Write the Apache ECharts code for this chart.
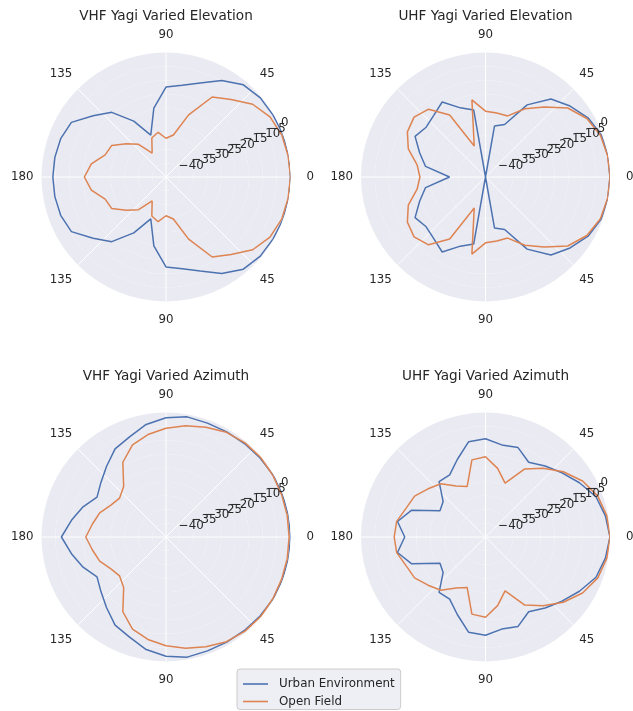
<!DOCTYPE html>
<html>
<head>
<meta charset="utf-8">
<script src="https://cdn.jsdelivr.net/npm/echarts@6/dist/echarts.min.js"></script>
<style>
  html, body { margin: 0; padding: 0; background: #fff; }
  #chart { width: 633px; height: 711px; }
</style>
</head>
<body>
<div id="chart"></div>
<script>
  // angles in degrees, one reading every 10 degrees
  var angles = [0, 10, 20, 30, 40, 50, 60, 70, 80, 90, 100, 110, 120, 130, 140, 150, 160, 170, 180,
    190, 200, 210, 220, 230, 240, 250, 260, 270, 280, 290, 300, 310, 320, 330, 340, 350, 360];

  // received level in dB
  var vhfElevUrban = [0, 0, 0, -0.3, -0.5, -1.5, -4.7, -8.8, -11.3, -12.5, -19.7, -28.9, -21.7, -14.5, -10.6, -5.5, -4.5, -4.2, -4.1,
    -4.2, -4.5, -5.5, -10.6, -14.5, -21.7, -28.9, -19.7, -12.5, -11.3, -8.8, -4.7, -1.5, -0.5, -0.3, 0, 0, 0];
  var vhfElevOpen = [0, -0.2, -0.5, -1.6, -4.1, -8.4, -11.6, -21.1, -29.6, -31.0, -28.6, -30.0, -35.0, -29.6, -26.3, -22.3, -21.6, -17.6, -15.5,
    -17.6, -21.6, -22.3, -26.3, -29.6, -35.0, -30.0, -28.6, -31.0, -29.6, -21.1, -11.6, -8.4, -4.1, -1.6, -0.5, -0.2, 0];

  var uhfElevUrban = [0, -0.1, -0.5, -2.2, -5.1, -8.2, -14.9, -24.8, -26.3, -45, -20.4, -18.4, -13.7, -15.9, -17.0, -15.6, -19.7, -23.0, -32.0,
    -23.0, -19.7, -15.6, -17.0, -15.9, -13.7, -18.4, -20.4, -45, -26.3, -24.8, -14.9, -8.2, -5.1, -2.2, -0.5, -0.1, 0];
  var uhfElevOpen = [0, -0.2, -0.8, -2.7, -6.2, -12.0, -16.5, -21.5, -21.5, -21.2, -16.7, -33.1, -19.1, -13.0, -11.3, -12.4, -15.3, -19.9, -21.3,
    -19.9, -15.3, -12.4, -11.3, -13.0, -19.1, -33.1, -16.7, -21.2, -21.5, -21.5, -16.5, -12.0, -6.2, -2.7, -0.8, -0.2, 0];

  var vhfAzUrban = [0, 0, -0.2, -0.3, -0.6, -0.9, -1.1, -1.2, -0.9, -1.9, -3.7, -6.5, -8.2, -11.6, -14.3, -16.2, -13.1, -10.3, -7.2,
    -10.3, -13.1, -16.2, -14.3, -11.6, -8.2, -6.5, -3.7, -1.9, -0.9, -1.2, -1.1, -0.9, -0.6, -0.3, -0.2, 0, 0];
  var vhfAzOpen = [-0.5, -0.5, -0.5, -0.4, -0.3, -0.6, -1.3, -2.8, -4.2, -5.7, -7.4, -9.6, -13.8, -21.2, -23.1, -22.0, -19.5, -18.0, -16.0,
    -18.0, -19.5, -22.0, -23.1, -21.2, -13.8, -9.6, -7.4, -5.7, -4.2, -2.8, -1.3, -0.6, -0.3, -0.4, -0.5, -0.5, -0.5];

  var uhfAzUrban = [0, -1.0, -2.5, -5.8, -8.9, -11.5, -13.8, -10.6, -11.2, -9.5, -10.0, -15.2, -19.1, -18.9, -25.0, -26.0, -16.6, -12.7, -15.8,
    -12.7, -16.6, -26.0, -25.0, -18.9, -19.1, -15.2, -10.0, -9.5, -11.2, -10.6, -13.8, -11.5, -8.9, -5.8, -2.5, -1.0, 0];
  var uhfAzOpen = [0, -0.5, -1.8, -4.5, -8.3, -12.6, -16.6, -24.3, -19.8, -16.0, -16.7, -25.6, -23.7, -19.9, -17.9, -15.4, -14.5, -12.4, -12.0,
    -12.4, -14.5, -15.4, -17.9, -19.9, -23.7, -25.6, -16.7, -16.0, -19.8, -24.3, -16.6, -12.6, -8.3, -4.5, -1.8, -0.5, 0];

  var titles = ['VHF Yagi Varied Elevation', 'UHF Yagi Varied Elevation', 'VHF Yagi Varied Azimuth', 'UHF Yagi Varied Azimuth'];
  var urbanSets = [vhfElevUrban, uhfElevUrban, vhfAzUrban, uhfAzUrban];
  var openSets = [vhfElevOpen, uhfElevOpen, vhfAzOpen, uhfAzOpen];
  var centers = [[166, 177], [485.5, 177], [166, 537], [485.5, 537]];
  var R = 124.5;

  var font = 'DejaVu Sans';
  var ink = '#262626';
  var blue = '#4c72b0';
  var orange = '#dd8452';

  // which side of the circle each angle label sits on
  var side = {0: 'e', 45: 'ne', 90: 'n', 135: 'ne', 180: 'w', 225: 'se', 270: 's', 315: 'se'};

  var polar = [], angleAxis = [], radiusAxis = [], title = [], series = [];

  // dB labels along the 22.5 degree line; split over several polars so
  // echarts does not drop a label for overlapping its neighbour
  function labelPolar(c, keep) {
    var idx = polar.length;
    polar.push({center: c, radius: R});
    angleAxis.push({
      polarIndex: idx, type: 'value', min: 0, max: 360, startAngle: 22.5, show: false
    });
    radiusAxis.push({
      polarIndex: idx, type: 'value', min: -45, max: 0, interval: 5, z: 5,
      axisLine: {show: false}, axisTick: {show: false},
      splitLine: {show: false}, splitArea: {show: false},
      axisLabel: {
        show: true, margin: 0, align: 'left', verticalAlign: 'bottom',
        showMaxLabel: true, showMinLabel: true, hideOverlap: false,
        fontSize: 11.8, color: ink, fontFamily: font,
        formatter: function (v) {
          if (!keep(v)) return '';
          return v < 0 ? '\u2212' + (-v) : String(v);
        }
      }
    });
  }

  centers.forEach(function (c, i) {
    var main = polar.length;
    polar.push({center: c, radius: R});

    angleAxis.push({
      polarIndex: main, type: 'value', min: 0, max: 360, interval: 45,
      startAngle: 0, clockwise: false,
      axisLine: {show: false}, axisTick: {show: false},
      splitLine: {show: true, lineStyle: {color: '#ffffff', width: 1}},
      axisLabel: {
        margin: 8, fontSize: 11.8, color: ink, fontFamily: font,
        formatter: function (v) {
          if (v === 360) return '';
          var t = v <= 180 ? v : 360 - v;
          return '{' + side[v] + '|' + t + '}';
        },
        rich: {
          e: {padding: [0, 0, 0, 8]},
          n: {padding: [0, 0, 4, 0]},
          s: {padding: [4, 0, 0, 0]},
          ne: {padding: [0, 0, 3, 0]},
          se: {padding: [3, 0, 0, 0]},
          w: {}
        }
      }
    });
    radiusAxis.push({
      polarIndex: main, type: 'value', min: -45, max: 0, interval: 5,
      axisLine: {show: false}, axisTick: {show: false}, axisLabel: {show: false},
      splitLine: {show: true, lineStyle: {color: '#ffffff', width: 1}},
      splitArea: {show: true, areaStyle: {color: ['#eaeaf2', '#eaeaf2']}}
    });

    labelPolar(c, function (v) { return v > -45 && v < 0 && (v / 5) % 2 === 0; });
    labelPolar(c, function (v) { return v > -45 && v < 0 && (v / 5) % 2 !== 0; });
    labelPolar(c, function (v) { return v === 0; });

    title.push({
      text: titles[i], left: c[0], top: c[1] - 168, textAlign: 'center', padding: 0,
      textStyle: {fontSize: 13.6, fontWeight: 'normal', color: ink, fontFamily: font}
    });

    series.push({
      name: 'Urban Environment', type: 'line', coordinateSystem: 'polar', polarIndex: main,
      symbol: 'none', lineStyle: {color: blue, width: 1.5}, itemStyle: {color: blue},
      data: angles.map(function (a, j) { return [urbanSets[i][j], a]; })
    });
    series.push({
      name: 'Open Field', type: 'line', coordinateSystem: 'polar', polarIndex: main,
      symbol: 'none', lineStyle: {color: orange, width: 1.5}, itemStyle: {color: orange},
      data: angles.map(function (a, j) { return [openSets[i][j], a]; })
    });
  });

  var chart = echarts.init(document.getElementById('chart'), null, {renderer: 'canvas'});
  chart.setOption({
    animation: false,
    backgroundColor: '#ffffff',
    title: title,
    polar: polar,
    angleAxis: angleAxis,
    radiusAxis: radiusAxis,
    legend: {
      data: ['Urban Environment', 'Open Field'],
      orient: 'vertical', left: 237, top: 669,
      padding: [9, 6, 2, 6], itemGap: 5.5, itemWidth: 25, itemHeight: 1.6, icon: 'rect',
      backgroundColor: 'rgba(234,234,242,0.8)', borderColor: '#cccccc', borderWidth: 1, borderRadius: 3,
      textStyle: {fontSize: 11.9, color: ink, fontFamily: font, padding: [0, 0, 0, 6]}
    },
    series: series
  });
</script>
</body>
</html>
